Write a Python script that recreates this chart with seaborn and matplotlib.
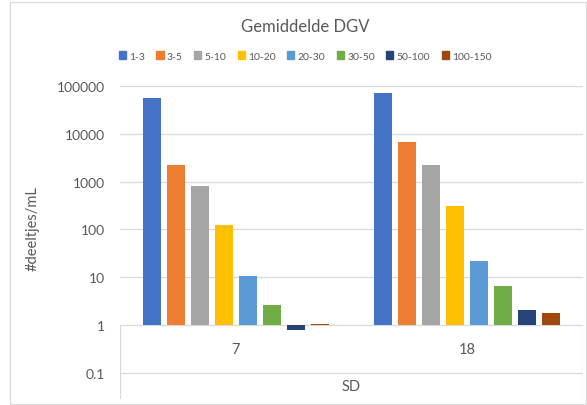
import matplotlib
matplotlib.use("Agg")
import matplotlib.pyplot as plt
import seaborn as sns
import pandas as pd
from matplotlib.patches import Rectangle

# data
groups = ["7", "18"]
sizes = ["1-3", "3-5", "5-10", "10-20", "20-30", "30-50", "50-100", "100-150"]
vals_7 = [55000, 2250, 820, 125, 10.8, 2.6, 0.8, 1.05]
vals_18 = [71000, 6800, 2250, 305, 22, 6.5, 2.06, 1.76]
colors = ["#4472C4", "#ED7D31", "#A5A5A5", "#FFC000",
          "#5B9BD5", "#70AD47", "#264478", "#9E480E"]
yticks = [0.1, 1, 10, 100, 1000, 10000, 100000]
ytick_labels = ["0.1", "1", "10", "100", "1000", "10000", "100000"]

df = pd.DataFrame({
    "SD": [groups[0]] * len(sizes) + [groups[1]] * len(sizes),
    "size": sizes + sizes,
    "n": vals_7 + vals_18,
})

sns.set_theme(style="white")
plt.rcParams['font.family'] = ['Lato', 'DejaVu Sans']
txt = "#595959"
grid = "#d9d9d9"

W, H = 587, 406
fig = plt.figure(figsize=(W / 100, H / 100), dpi=100)
ax = fig.add_axes([120 / W, 1 - 400 / H, 463 / W, 313 / H])

sns.barplot(data=df, x="SD", y="n", hue="size", order=groups, hue_order=sizes,
            palette=colors, saturation=1, width=0.83, gap=0.25,
            errorbar=None, linewidth=0, legend=False, ax=ax)

# Excel-style: bars grow from 1 (the axis crossing), downwards if < 1
for cont in ax.containers:
    for bar in cont:
        top = bar.get_y() + bar.get_height()
        bar.set_y(1)
        bar.set_height(top - 1)

ax.set_yscale("log")
ax.set_ylim(0.0283, 1e5)
ax.set_xlim(-0.5, 1.5)
ax.set_yticks(yticks)
ax.set_yticklabels(ytick_labels)
ax.yaxis.set_minor_locator(matplotlib.ticker.NullLocator())
ax.tick_params(axis="y", length=0, pad=11, labelsize=10, labelcolor=txt)
ax.set_xticks([])
ax.set_xlabel("")
ax.set_ylabel("")
for s in ax.spines.values():
    s.set_visible(False)
ax.yaxis.grid(True, color=grid, lw=0.9)
ax.set_axisbelow(True)

# category label box
ax.vlines([-0.5, 1.5], 0.0283, 1, color=grid, lw=0.9)
for i, g in enumerate(groups):
    ax.text(i, 10 ** -0.5, g, ha="center", va="center", fontsize=10.5, color=txt)
ax.text(0.5, 10 ** -1.27, "SD", ha="center", va="center", fontsize=10.5, color=txt)

fig.text(305 / W, 1 - 27 / H, "Gemiddelde DGV", ha="center", va="center",
         fontsize=12, color=txt)
fig.text(33 / W, 1 - 229 / H, "#deeltjes/mL", ha="center", va="center",
         rotation=90, fontsize=10.5, color=txt)

handles = [Rectangle((0, 0), 1, 1, color=c) for c in colors]
fig.legend(handles, sizes, loc="center", bbox_to_anchor=(305 / W, 1 - 57 / H),
           ncol=8, frameon=False, fontsize=7.5, labelcolor=txt,
           handlelength=0.7, handleheight=0.7, handletextpad=0.3,
           columnspacing=1.1)

fig.add_artist(Rectangle((10 / W, 1 - 405 / H), 576 / W, 402 / H,
                         transform=fig.transFigure, fill=False,
                         ec=grid, lw=0.9))

fig.savefig("out.png", dpi=100)
